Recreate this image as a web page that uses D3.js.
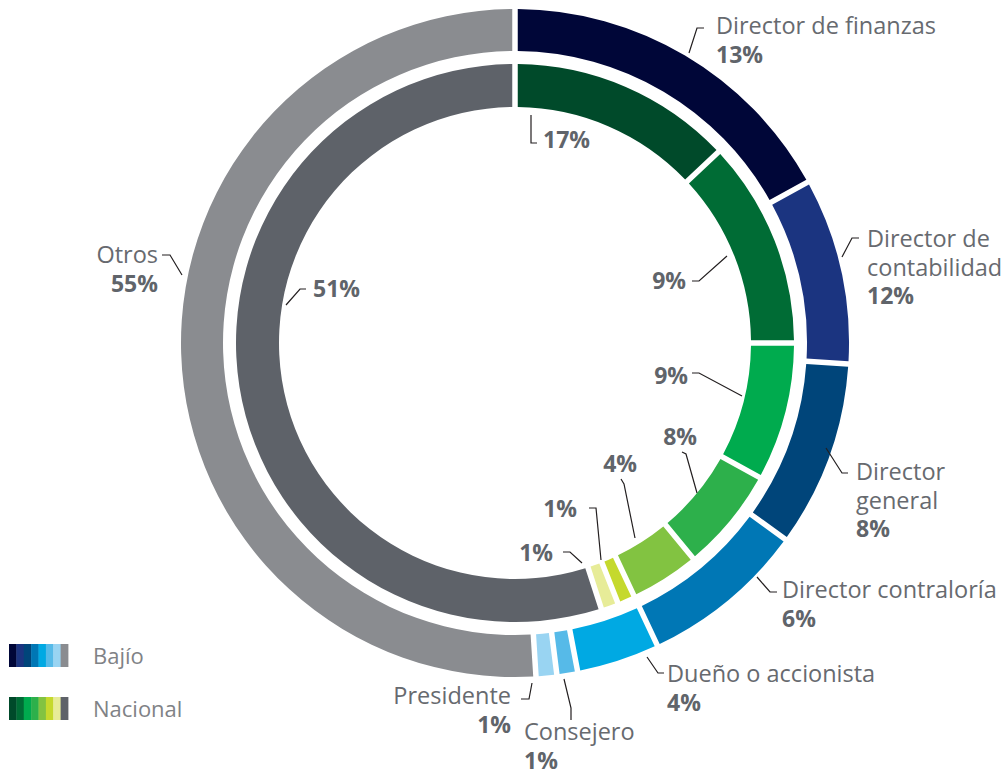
<!DOCTYPE html>
<html>
<head>
<meta charset="utf-8">
<script src="https://cdn.jsdelivr.net/npm/d3@7"></script>
<style>
  body { margin: 0; background: #fff; }
  svg { display: block; font-family: "Open Sans", sans-serif; }
  .lbl { font-size: 23.5px; fill: #676a6f; }
  .pct { font-size: 23px; font-weight: 700; fill: #60646a; }
  .leader { fill: none; stroke: #231f20; stroke-width: 1.2; }
  .legend text { font-size: 22px; fill: #808286; }
</style>
</head>
<body>
<svg width="1008" height="769"></svg>
<script>
// data
var roles = ["Director de finanzas", "Director de contabilidad", "Director general",
             "Director contraloría", "Dueño o accionista", "Consejero", "Presidente", "Otros"];
var bajio    = [13, 12, 8, 6, 4, 1, 1, 55];
var nacional = [17, 9, 9, 8, 4, 1, 1, 51];
var seriesNames = ["Bajío", "Nacional"];
var bajioColors    = ["#000638", "#1b3480", "#00457a", "#0077b5", "#00a9e3", "#56bae8", "#99d4f2", "#8a8c90"];
var nacionalColors = ["#004a2a", "#006c35", "#00ab4e", "#2db04b", "#82c341", "#c5d92d", "#e7ec98", "#5e6269"];

var svg = d3.select('svg');
var cx = 515, cy = 343;

var pie = d3.pie().sort(null).value(function(d){ return d; });

// NOTE: in the reference the outer (Bajío) ring is sized with the Nacional
// values and the inner ring with the Bajío values, labels stay as printed.
var outerArc = d3.arc().innerRadius(292).outerRadius(334).padAngle(0.055).padRadius(100);
var innerArc = d3.arc().innerRadius(236).outerRadius(279).padAngle(0.055).padRadius(100);

var chartG = svg.append('g').attr('transform', 'translate(' + [cx, cy] + ')');

chartG.selectAll('.outer')
    .data(pie(nacional))
    .enter().append('path')
    .attr('class', 'outer')
    .attr('d', outerArc)
    .attr('fill', function(d, i){ return bajioColors[i]; });

chartG.selectAll('.inner')
    .data(pie(bajio))
    .enter().append('path')
    .attr('class', 'inner')
    .attr('d', innerArc)
    .attr('fill', function(d, i){ return nacionalColors[i]; });

// label layout (hand placed like the original)
var outerLabels = [
    {lines: ["Director de finanzas"], x: 716, y: 34, anchor: "start", leader: [[689,53],[697,28],[704,28]]},
    {lines: ["Director de", "contabilidad"], x: 867, y: 247, anchor: "start", leader: [[842,257],[852,238],[859,238]]},
    {lines: ["Director", "general"], x: 856, y: 480, anchor: "start", leader: [[826,448],[842,473],[848,473]]},
    {lines: ["Director contraloría"], x: 782, y: 598, anchor: "start", leader: [[757,577],[770,592],[777,592]]},
    {lines: ["Dueño o accionista"], x: 667, y: 682, anchor: "start", leader: [[647,657],[658,673],[664,673]]},
    {lines: ["Consejero"], x: 524, y: 740, anchor: "start", leader: [[564,679],[571,708],[571,720]]},
    {lines: ["Presidente"], x: 511, y: 704, anchor: "end", leader: [[532,683],[529,699],[521,699]]},
    {lines: ["Otros"], x: 158, y: 263, anchor: "end", leader: [[182,275],[170,255],[162,255]]}
];
var innerLabels = [
    {x: 543, y: 148, anchor: "start", leader: [[531,115],[531,143],[537,143]]},
    {x: 686, y: 289, anchor: "end", leader: [[727,256],[699,281],[692,281]]},
    {x: 688, y: 384, anchor: "end", leader: [[742,396],[699,373],[692,373]]},
    {x: 697, y: 445, anchor: "end", leader: [[682,452],[686,454],[697,493]]},
    {x: 637, y: 472, anchor: "end", leader: [[621,479],[624,484],[635,538]]},
    {x: 577, y: 517, anchor: "end", leader: [[589,508],[596,508],[601,560]]},
    {x: 553, y: 561, anchor: "end", leader: [[563,552],[570,552],[582,563]]},
    {x: 313, y: 297, anchor: "start", leader: [[286,305],[300,289],[306,289]]}
];

var lineGap = 28.5;
var line = d3.line();

outerLabels.forEach(function(l, i) {
    svg.append('path').attr('class', 'leader').attr('d', line(l.leader));
    l.lines.forEach(function(t, k) {
        svg.append('text').attr('class', 'lbl')
            .attr('x', l.x).attr('y', l.y + k * lineGap)
            .attr('text-anchor', l.anchor).text(t);
    });
    svg.append('text').attr('class', 'pct')
        .attr('x', l.x).attr('y', l.y + l.lines.length * lineGap)
        .attr('text-anchor', l.anchor).text(bajio[i] + '%');
});

innerLabels.forEach(function(l, i) {
    svg.append('path').attr('class', 'leader').attr('d', line(l.leader));
    svg.append('text').attr('class', 'pct')
        .attr('x', l.x).attr('y', l.y)
        .attr('text-anchor', l.anchor).text(nacional[i] + '%');
});

// legend
var swatchX = d3.scaleBand().domain(d3.range(8)).range([9, 68]).padding(0);
var legend = svg.append('g').attr('class', 'legend');
[bajioColors, nacionalColors].forEach(function(cols, s) {
    var g = legend.append('g').attr('transform', 'translate(0,' + (644 + s * 53) + ')');
    g.selectAll('rect').data(cols).enter().append('rect')
        .attr('x', function(d, i){ return swatchX(i); })
        .attr('y', 0)
        .attr('width', swatchX.bandwidth() + 0.4)
        .attr('height', 23)
        .attr('fill', function(d){ return d; });
    g.append('text').attr('x', 93).attr('y', 20).text(seriesNames[s]);
});
</script>
</body>
</html>
